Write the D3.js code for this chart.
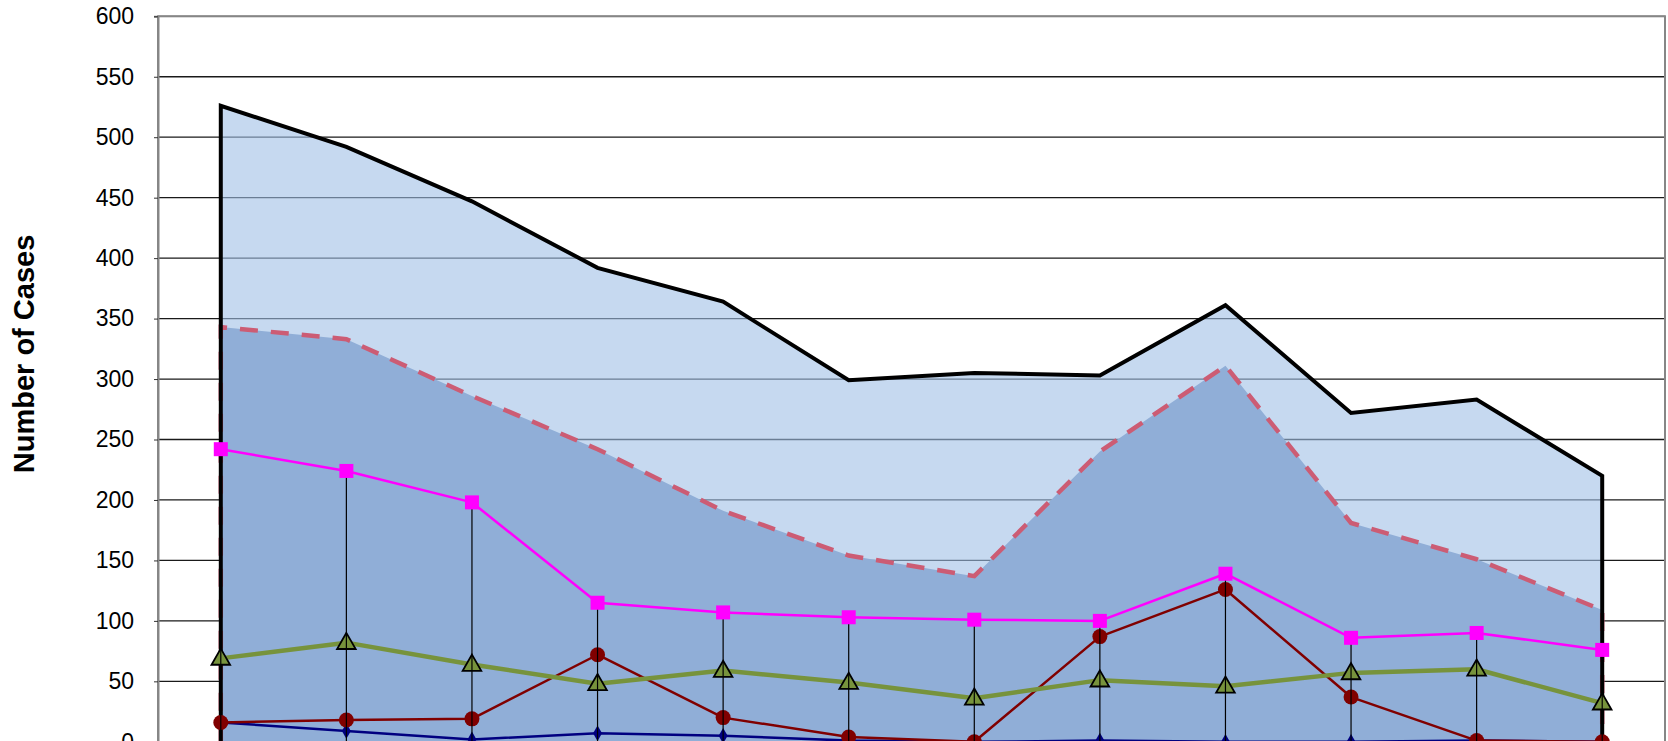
<!DOCTYPE html>
<html>
<head>
<meta charset="utf-8">
<script src="https://cdn.jsdelivr.net/npm/d3@7"></script>
<style>
  body { margin:0; background:#fff; }
  svg { display:block; font-family: Arial, "Liberation Sans", sans-serif; }
</style>
</head>
<body>
<div class="canvas"></div>
<script>
//Data
var categories = ['1','2','3','4','5','6','7','8','9','10','11','12'];
var totalCases   = [526,492,447,392,364,299,305,303,361,272,283,220];
var subsetCases  = [343,333,286,242,191,154,137,240,311,181,151,109];
var magentaCases = [242,224,198,115,107,103,101,100,139,86,90,76];
var greenCases   = [69,82,64,48,59,49,36,51,46,57,60,32];
var redCases     = [16,18,19,72,20,4,0,87,126,37,1,0];
var navyCases    = [16,9,2,7,5,1,0,1,0,0,1,0];
var yTicks = [0,50,100,150,200,250,300,350,400,450,500,550,600];

//Set up the drawing environment here
var W = 1668, H = 741;
var margin = {t:16.3, l:158, r:3};
var plotBottom = 741.8;

var svg = d3.select('.canvas')
	.append('svg')
	.attr('width',W)
	.attr('height',H);

var x = d3.scaleBand()
	.domain(categories)
	.range([margin.l, W-margin.r]);
var cx = function(d,i){ return x(categories[i]) + x.bandwidth()/2; };

var y = d3.scaleLinear()
	.domain([0,600])
	.range([plotBottom, margin.t]);

//gridlines first, the light area sits over them half see-through
svg.append('g')
	.selectAll('line')
	.data(yTicks.slice(1))
	.enter()
	.append('line')
	.attr('x1',margin.l)
	.attr('x2',W-margin.r)
	.attr('y1',function(d){return y(d);})
	.attr('y2',function(d){return y(d);})
	.style('stroke','#1a1a1a')
	.style('stroke-width',1.3);

var area = d3.area()
	.x(cx)
	.y0(y(0))
	.y1(function(d){return y(d);});

svg.append('path')
	.attr('d',area(totalCases))
	.style('fill','rgb(160,192,230)')
	.style('fill-opacity',0.6);

svg.append('path')
	.attr('d',area(subsetCases))
	.style('fill','#90aed7');

//outlines including the vertical edges at both ends
function outline(vals){
	var pts = [[cx(0,0),y(0)]];
	vals.forEach(function(v,i){ pts.push([cx(v,i),y(v)]); });
	pts.push([cx(0,vals.length-1),y(0)]);
	return d3.line()(pts);
}

svg.append('path')
	.attr('d',outline(subsetCases))
	.style('fill','none')
	.style('stroke','#cc5c74')
	.style('stroke-width',4.5)
	.style('stroke-dasharray','18,13');

svg.append('path')
	.attr('d',outline(totalCases))
	.style('fill','none')
	.style('stroke','#000')
	.style('stroke-width',4)
	.style('stroke-linejoin','miter');

//plot frame and axis
svg.append('rect')
	.attr('x',margin.l)
	.attr('y',margin.t)
	.attr('width',W-margin.r-margin.l)
	.attr('height',plotBottom-margin.t+10)
	.style('fill','none')
	.style('stroke','#868686')
	.style('stroke-width',2);

var yAxis = d3.axisLeft(y)
	.tickValues(yTicks)
	.tickSize(4)
	.tickPadding(20);

var gy = svg.append('g')
	.attr('transform','translate('+margin.l+',0)')
	.call(yAxis);
gy.select('.domain').style('stroke','#868686').style('stroke-width',2);
gy.selectAll('.tick line').style('stroke','#333');
gy.selectAll('.tick text')
	.style('font-size','23px')
	.style('font-family','Arial, "Liberation Sans", sans-serif')
	.style('fill','#000');

svg.append('text')
	.attr('transform','translate(34,354) rotate(-90)')
	.attr('text-anchor','middle')
	.style('font-size','29px')
	.style('font-weight','bold')
	.text('Number of Cases');

//line series
function drawLine(vals,color,width){
	svg.append('path')
		.attr('d',d3.line().x(cx).y(function(d){return y(d);})(vals))
		.style('fill','none')
		.style('stroke',color)
		.style('stroke-width',width)
		.style('stroke-linejoin','round');
}

drawLine(navyCases,'#000080',2.5);
drawLine(redCases,'#800000',2.5);
drawLine(greenCases,'#77933c',4.5);
drawLine(magentaCases,'#ff00ff',2.5);

svg.append('g').selectAll('path')
	.data(navyCases)
	.enter()
	.append('path')
	.attr('d',d3.symbol().type(d3.symbolDiamond).size(70))
	.attr('transform',function(d,i){return 'translate('+cx(d,i)+','+y(d)+')';})
	.style('fill','#000080');

svg.append('g').selectAll('circle')
	.data(redCases)
	.enter()
	.append('circle')
	.attr('cx',cx)
	.attr('cy',function(d){return y(d);})
	.attr('r',7.5)
	.style('fill','#800000');

svg.append('g').selectAll('path')
	.data(greenCases)
	.enter()
	.append('path')
	.attr('d',d3.symbol().type(d3.symbolTriangle).size(150))
	.attr('transform',function(d,i){return 'translate('+cx(d,i)+','+(y(d)+1)+')';})
	.style('fill','#77933c')
	.style('stroke','#000')
	.style('stroke-width',1.8);

//drop lines from the top line down to the axis
svg.append('g').selectAll('line')
	.data(magentaCases)
	.enter()
	.append('line')
	.attr('x1',cx)
	.attr('x2',cx)
	.attr('y1',function(d){return y(d);})
	.attr('y2',y(0))
	.style('stroke','#000')
	.style('stroke-width',1.2);

svg.append('g').selectAll('rect')
	.data(magentaCases)
	.enter()
	.append('rect')
	.attr('x',function(d,i){return cx(d,i)-7;})
	.attr('y',function(d){return y(d)-7;})
	.attr('width',14)
	.attr('height',14)
	.style('fill','#ff00ff');
</script>
</body>
</html>
